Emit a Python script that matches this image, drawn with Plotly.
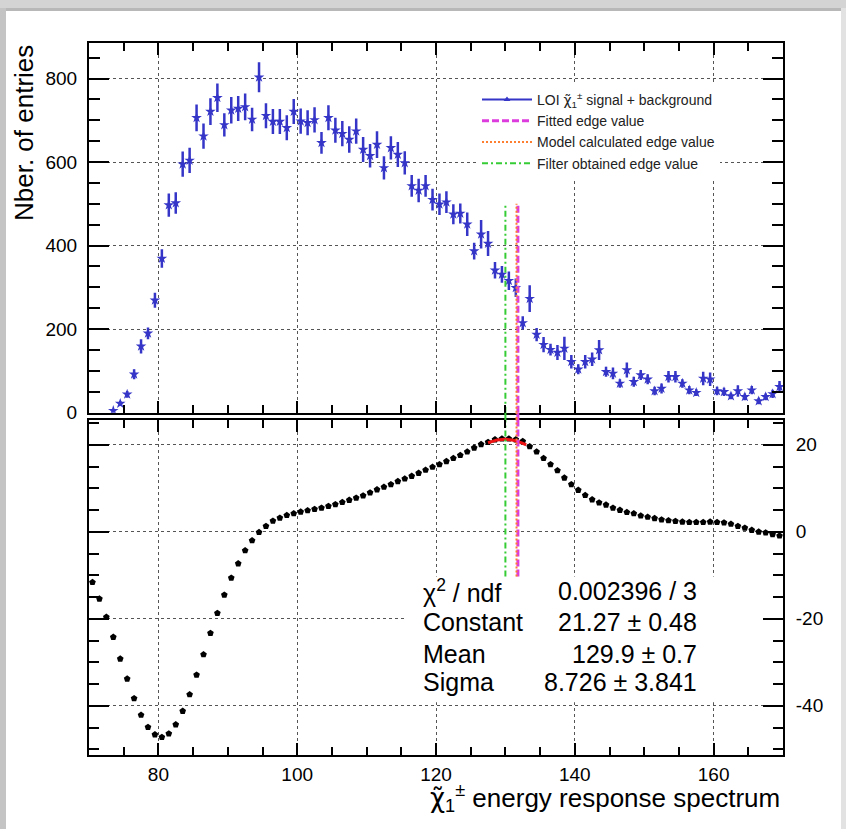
import math
import plotly.graph_objects as go

# ---------------- data ----------------
bin_width = 1

top_first_bin = 73.5
top_counts = [5, 22, 44, 92, 159, 190, 269, 369, 497, 502, 595, 604, 706, 662, 721, 754, 689, 724, 728, 732,
              702, 803, 711, 697, 697, 682, 721, 698, 694, 701, 646, 706, 676, 668, 654, 674, 630, 615, 642, 586,
              634, 618, 598, 543, 532, 543, 510, 499, 504, 475, 477, 451, 387, 427, 405, 341, 331, 316, 299, 215,
              273, 187, 163, 151, 144, 154, 122, 104, 122, 128, 150, 98, 94, 70, 102, 74, 90, 80, 52, 58,
              86, 86, 70, 54, 48, 82, 80, 52, 50, 40, 52, 38, 54, 28, 38, 45, 62]
top_errors = [3, 6, 8, 12, 17, 14, 18, 22, 28, 26, 30, 30, 32, 30, 32, 34, 28, 32, 30, 32,
              28, 36, 30, 30, 30, 30, 30, 30, 30, 30, 26, 30, 30, 30, 32, 30, 30, 28, 32, 28,
              28, 30, 28, 26, 28, 26, 26, 26, 26, 24, 24, 28, 20, 34, 30, 20, 20, 22, 22, 16,
              32, 16, 18, 14, 18, 28, 16, 12, 16, 16, 24, 12, 14, 10, 18, 12, 12, 12, 10, 12,
              14, 14, 10, 10, 8, 16, 16, 10, 10, 8, 14, 8, 10, 8, 8, 10, 14]

bottom_first_bin = 70.5
bottom_values = [-11.6, -15.4, -19.6, -24.2, -29.2, -33.8, -38.3, -42.1, -44.9, -46.6,
                 -47.2, -46.4, -44.3, -41.2, -37.4, -32.9, -28.2, -23.3, -18.7, -14.5,
                 -10.6, -7.3, -4.3, -2.0, -0.1, 1.3, 2.5, 3.2, 3.8, 4.2,
                 4.6, 4.9, 5.2, 5.5, 5.9, 6.3, 6.8, 7.3, 7.8, 8.3,
                 9.0, 9.7, 10.3, 10.9, 11.6, 12.2, 12.8, 13.5, 14.2, 14.9,
                 15.5, 16.2, 16.9, 17.6, 18.4, 19.3, 20.1, 20.6, 21.2, 21.4,
                 21.4, 21.2, 20.8, 19.6, 18.4, 16.9, 15.5, 14.1, 12.4, 10.9,
                 9.6, 8.4, 7.4, 6.7, 6.2, 5.5, 5.0, 4.5, 4.2, 3.7,
                 3.4, 3.1, 2.8, 2.6, 2.45, 2.3, 2.2, 2.2, 2.2, 2.3,
                 2.2, 2.1, 1.8, 1.3, 0.9, 0.4, 0.0, -0.2, -0.6, -0.9]

# edge values (vertical lines)
fitted_edge = 131.8
model_edge = 131.6
filter_edge = 130.0
edge_top_height = 500
edge_bottom_start = -10.3

# Gaussian fit
fit_constant, fit_constant_err = 21.27, 0.48
fit_mean, fit_mean_err = 129.9, 0.7
fit_sigma, fit_sigma_err = 8.726, 3.841
fit_chi2, fit_ndf = 0.002396, 3
fit_range = (127.5, 133.0)

x_tick_vals = [80, 100, 120, 140, 160]
x_tick_text = ["80", "100", "120", "140", "160"]
y1_tick_vals = [0, 200, 400, 600, 800]
y1_tick_text = ["0", "200", "400", "600", "800"]
y2_tick_vals = [-40, -20, 0, 20]
y2_tick_text = ["-40", "-20", "0", "20"]

x_range = [70, 170]
y1_range = [0, 885]
y2_range = [-51.3, 25.7]

# ---------------- styling ----------------
FONT = "Liberation Sans, Arial, Helvetica, sans-serif"
BLUE = "#3535c8"
MAGENTA = "#dd3cdd"
ORANGE = "#ff7f30"
GREEN = "#35cc35"
CHI = '<span style="font-family:DejaVu Sans">χ̃</span>'

W, H = 846, 829
ML, MR, MT, MB = 89, 63, 43, 74
PW, PH = W - ML - MR, H - MT - MB


def px_x(p):
    return (p - ML) / PW


def px_y(p):
    return (H - MB - p) / PH


top_x = [top_first_bin + i * bin_width for i in range(len(top_counts))]
bot_x = [bottom_first_bin + i * bin_width for i in range(len(bottom_values))]

n_fit = 60
fit_x = [fit_range[0] + (fit_range[1] - fit_range[0]) * i / (n_fit - 1) for i in range(n_fit)]
fit_y = [fit_constant * math.exp(-0.5 * ((v - fit_mean) / fit_sigma) ** 2) for v in fit_x]

fig = go.Figure()

# legend entry for data
fig.add_trace(go.Scatter(x=[None], y=[None], mode="lines+markers",
                         name="LOI " + CHI + "<sub>1</sub><sup>±</sup> signal + background",
                         line=dict(color=BLUE, width=2), marker=dict(symbol="triangle-up", size=6, color=BLUE),
                         xaxis="x", yaxis="y", legendrank=1))

fig.add_trace(go.Scatter(x=top_x, y=top_counts, mode="markers", showlegend=False,
                         marker=dict(symbol="star", size=8, color=BLUE),
                         error_y=dict(type="data", array=top_errors, color=BLUE, thickness=2.5, width=0),
                         xaxis="x", yaxis="y"))

fig.add_trace(go.Scatter(x=bot_x, y=bottom_values, mode="markers", showlegend=False,
                         marker=dict(symbol="pentagon", size=7, color="black"),
                         xaxis="x2", yaxis="y2"))

fig.add_trace(go.Scatter(x=fit_x, y=fit_y, mode="lines", showlegend=False,
                         line=dict(color="#ee1111", width=3), xaxis="x2", yaxis="y2"))

dom_top = [px_y(412.7), 1]
dom_bot = [0, px_y(420)]

edges = [
    ("Fitted edge value", fitted_edge, MAGENTA, "7px,3px", 3, 2, "dash"),
    ("Model calculated edge value", model_edge, ORANGE, "2px,2px", 2, 3, "dot"),
    ("Filter obtained edge value", filter_edge, GREEN, "6px,3px,2px,3px", 2, 4, "dashdot"),
]
shapes = []
for name, xv, col, dash, w, rank, sdash in edges:
    fig.add_trace(go.Scatter(x=[xv, xv], y=[0, edge_top_height], mode="lines", name=name,
                             line=dict(color=col, width=w, dash=dash), xaxis="x", yaxis="y", legendrank=rank))
    fig.add_trace(go.Scatter(x=[xv, xv], y=[edge_bottom_start, y2_range[1] + 10], mode="lines", showlegend=False,
                             line=dict(color=col, width=w, dash=dash), xaxis="x2", yaxis="y2"))
    shapes.append(dict(type="line", xref="x", yref="paper", x0=xv, x1=xv, y0=dom_bot[1], y1=dom_top[0],
                       line=dict(color=col, width=w, dash=sdash)))

# stats box (white, covers grid)
shapes.append(dict(type="rect", xref="x2", yref="y2", x0=115.8, x1=167.2, y0=-39.2, y1=-10.3,
                   fillcolor="white", line=dict(width=0), layer="between"))

# screenshot frame
shapes += [
    dict(type="rect", xref="paper", yref="paper", x0=px_x(-5), x1=px_x(W + 5), y0=px_y(9), y1=px_y(-5),
         fillcolor="#d4d4d4", line=dict(width=0), layer="below"),
    dict(type="rect", xref="paper", yref="paper", x0=px_x(-5), x1=px_x(W + 5), y0=px_y(11), y1=px_y(8),
         fillcolor="#b8b8b8", line=dict(width=0), layer="below"),
    dict(type="rect", xref="paper", yref="paper", x0=px_x(-5), x1=px_x(6), y0=px_y(H + 5), y1=px_y(8),
         fillcolor="#c4c4c4", line=dict(width=0), layer="below"),
    dict(type="rect", xref="paper", yref="paper", x0=px_x(841), x1=px_x(W + 5), y0=px_y(H + 5), y1=px_y(8),
         fillcolor="#e2e2e2", line=dict(width=0), layer="below"),
]

annotations = []
stat_rows = [
    ("χ<sup>2</sup> / ndf", f"{fit_chi2:.6f} / {fit_ndf}"),
    ("Constant", f"{fit_constant:.2f} ± {fit_constant_err:.2f}"),
    ("Mean", f"{fit_mean:.1f} ± {fit_mean_err:.1f}"),
    ("Sigma", f"{fit_sigma:.3f} ± {fit_sigma_err:.3f}"),
]
row_y = [-13.7, -20.8, -28.0, -34.6]
for (lab, val), yy in zip(stat_rows, row_y):
    annotations.append(dict(xref="x2", yref="y2", x=117.8, y=yy, text=lab, showarrow=False,
                            xanchor="left", yanchor="middle", font=dict(family=FONT, size=25, color="black")))
    annotations.append(dict(xref="x2", yref="y2", x=157.9, y=yy, text=val, showarrow=False,
                            xanchor="right", yanchor="middle", font=dict(family=FONT, size=25, color="black")))

annotations.append(dict(xref="paper", yref="paper", x=px_x(24), y=1.0, text="Nber. of entries",
                        textangle=-90, showarrow=False, xanchor="center", yanchor="top",
                        font=dict(family=FONT, size=26, color="black")))
annotations.append(dict(xref="paper", yref="paper", x=px_x(782), y=px_y(798),
                        text=CHI + "<sub>1</sub><sup>±</sup> energy response spectrum",
                        showarrow=False, xanchor="right", yanchor="middle",
                        font=dict(family=FONT, size=26, color="black")))

axis_common = dict(showline=True, linewidth=2, linecolor="black", mirror="ticks", ticks="inside",
                   tickcolor="black", tickwidth=2, zeroline=False, showgrid=True, griddash="dot",
                   gridcolor="#555555", gridwidth=1,
                   tickfont=dict(family=FONT, size=19, color="black"))

fig.update_layout(
    width=W, height=H, autosize=False,
    margin=dict(l=ML, r=MR, t=MT, b=MB, pad=0),
    paper_bgcolor="white", plot_bgcolor="white",
    showlegend=True,
    legend=dict(x=px_x(477), y=px_y(84), xanchor="left", yanchor="top",
                bgcolor="white", borderwidth=0, font=dict(family=FONT, size=14, color="#222222"),
                itemwidth=50, tracegroupgap=0),
    xaxis=dict(domain=[0, 1], anchor="y", range=x_range, tickmode="array", tickvals=x_tick_vals,
               ticktext=x_tick_text, showticklabels=False, ticklen=12,
               minor=dict(ticks="inside", dtick=5, tick0=0, ticklen=8, tickcolor="black", tickwidth=2, showgrid=False),
               **axis_common),
    yaxis=dict(domain=dom_top, anchor="x", range=y1_range, tickmode="array", tickvals=y1_tick_vals,
               ticktext=y1_tick_text, ticklen=20, ticklabelstandoff=6,
               minor=dict(ticks="inside", dtick=50, tick0=0, ticklen=11, tickcolor="black", tickwidth=2, showgrid=False),
               **axis_common),
    xaxis2=dict(domain=[0, 1], anchor="y2", range=x_range, tickmode="array", tickvals=x_tick_vals,
                ticktext=x_tick_text, ticklen=12, ticklabelstandoff=1,
                minor=dict(ticks="inside", dtick=5, tick0=0, ticklen=8, tickcolor="black", tickwidth=2, showgrid=False),
                **axis_common),
    yaxis2=dict(domain=dom_bot, anchor="x2", range=y2_range, side="right", tickmode="array",
                tickvals=y2_tick_vals, ticktext=y2_tick_text, ticklen=20, ticklabelstandoff=7,
                minor=dict(ticks="inside", dtick=5, tick0=0, ticklen=10, tickcolor="black", tickwidth=2, showgrid=False),
                **axis_common),
    shapes=shapes,
    annotations=annotations,
)

fig.write_html("out.html", config={"displayModeBar": False},
               post_script="document.body.style.margin='0px';document.body.style.padding='0px';")
